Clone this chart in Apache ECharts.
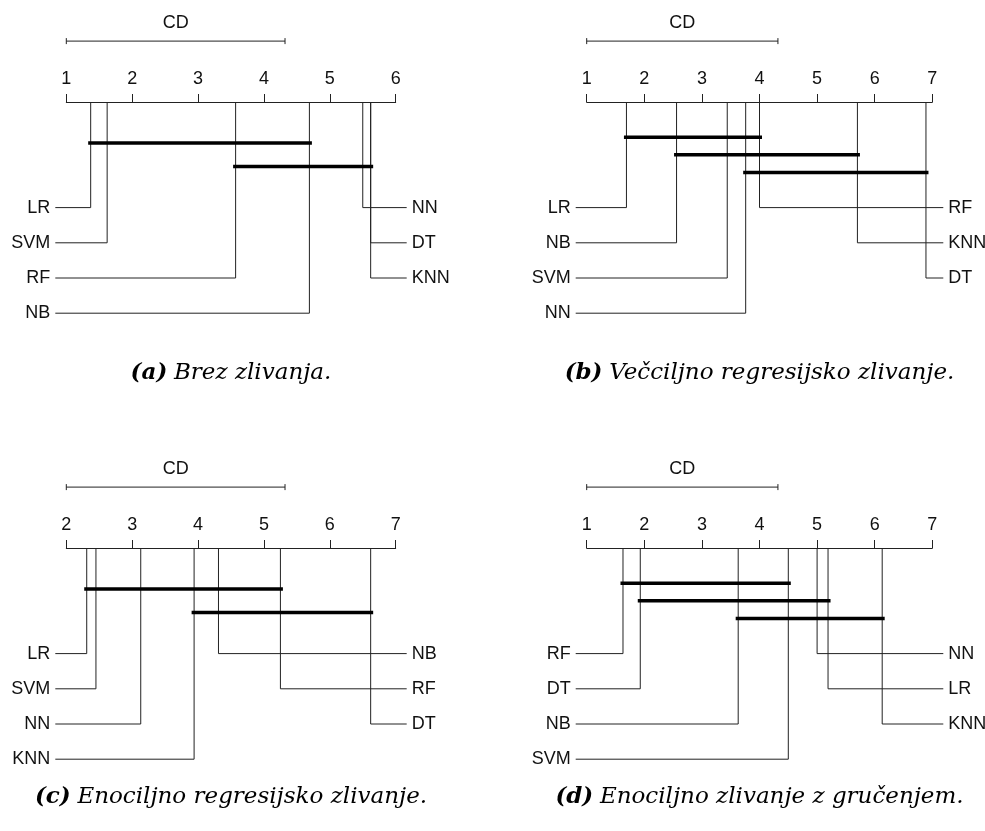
<!DOCTYPE html>
<html>
<head>
<meta charset="utf-8">
<script src="https://cdn.jsdelivr.net/npm/echarts@6/dist/echarts.min.js"></script>
<style>
html, body { margin: 0; padding: 0; background: #fff; }
#main { width: 985px; height: 831px; }
</style>
</head>
<body>
<div id="main"></div>
<script>
// povprečni rangi metod (odčitano s slike)
const methodsA = ['LR', 'SVM', 'RF', 'NB', 'NN', 'DT', 'KNN'];
const ranksA = [1.37, 1.62, 3.57, 4.69, 5.50, 5.62, 5.62];
const cliquesA = [['LR', 'NB'], ['RF', 'KNN']];

const methodsB = ['LR', 'NB', 'SVM', 'NN', 'RF', 'KNN', 'DT'];
const ranksB = [1.69, 2.56, 3.44, 3.76, 4.00, 5.70, 6.89];
const cliquesB = [['LR', 'RF'], ['NB', 'KNN'], ['NN', 'DT']];

const methodsC = ['LR', 'SVM', 'NN', 'KNN', 'NB', 'RF', 'DT'];
const ranksC = [2.31, 2.45, 3.13, 3.94, 4.31, 5.25, 6.62];
const cliquesC = [['LR', 'RF'], ['KNN', 'DT']];

const methodsD = ['RF', 'DT', 'NB', 'SVM', 'NN', 'LR', 'KNN'];
const ranksD = [1.63, 1.93, 3.63, 4.50, 5.00, 5.19, 6.13];
const cliquesD = [['RF', 'SVM'], ['DT', 'LR'], ['NB', 'KNN']];

const axisRanges = [[1, 6], [1, 7], [2, 7], [1, 7]];
const cdValue = 3.32;
const captionLetters = ['(a)', '(b)', '(c)', '(d)'];
const captionTexts = [
    'Brez zlivanja.',
    'Večciljno regresijsko zlivanje.',
    'Enociljno regresijsko zlivanje.',
    'Enociljno zlivanje z gručenjem.'
];

const sets = [
    [methodsA, ranksA, cliquesA],
    [methodsB, ranksB, cliquesB],
    [methodsC, ranksC, cliquesC],
    [methodsD, ranksD, cliquesD]
];

// postavitev (top = črta osi)
const panels = [
    {left: 66.3, width: 329.4, top: 102, capY: 373},
    {left: 586.7, width: 345.6, top: 102, capY: 373},
    {left: 66.3, width: 329.4, top: 548, capY: 797},
    {left: 586.7, width: 345.6, top: 548, capY: 797}
];
const rowUnit = 35.2;
const yMax = 6.5;
const cdRow = -1.73;
const sans = '"Liberation Sans", Arial, sans-serif';
const lineColor = '#222';

let grid = [], xAxis = [], yAxis = [], series = [], graphic = [];

panels.forEach((p, i) => {
    const [methods, ranks, cliques] = sets[i];
    const range = axisRanges[i];
    grid.push({left: p.left, width: p.width, top: p.top, height: yMax * rowUnit,
               outerBoundsMode: 'none', containLabel: false});
    xAxis.push({
        type: 'value', gridIndex: i, min: range[0], max: range[1], interval: 1,
        position: 'top',
        axisLine: {show: true, onZero: false, lineStyle: {color: lineColor, width: 1}},
        axisTick: {show: true, length: 8, lineStyle: {color: lineColor, width: 1}},
        axisLabel: {margin: 14, color: '#111', fontSize: 18, fontFamily: sans},
        splitLine: {show: false}
    });
    yAxis.push({type: 'value', gridIndex: i, min: 0, max: yMax, inverse: true, show: false});

    // metode: prva polovica levo, ostale desno
    const nLeft = Math.ceil(methods.length / 2);
    const rows = methods.map((m, k) => k < nLeft ? [ranks[k], 3 + k, 0] : [ranks[k], 3 + k - nLeft, 1]);

    series.push({
        type: 'custom', xAxisIndex: i, yAxisIndex: i, silent: true, clip: false,
        data: rows,
        renderItem: function (params, api) {
            const rank = api.value(0), row = api.value(1), side = api.value(2);
            const top = api.coord([rank, 0]);
            const bend = api.coord([rank, row]);
            const edge = api.coord([side ? range[1] : range[0], row])[0] + (side ? 11 : -11);
            return {
                type: 'group',
                children: [
                    {type: 'polyline', shape: {points: [top, bend, [edge, bend[1]]]},
                     style: {stroke: lineColor, lineWidth: 1, fill: null}},
                    {type: 'text', style: {
                        text: methods[params.dataIndex], x: edge + (side ? 5 : -5), y: bend[1],
                        align: side ? 'left' : 'right', verticalAlign: 'middle',
                        fill: '#111', fontSize: 18, fontFamily: sans}}
                ]
            };
        }
    });

    // skupine brez statistično značilne razlike
    const n = cliques.length;
    const cliqueData = cliques.map((c, k) => [
        ranks[methods.indexOf(c[0])], ranks[methods.indexOf(c[1])],
        1.5 + (k - (n - 1) / 2) * 2 / (n + 1)
    ]);
    series.push({
        type: 'custom', xAxisIndex: i, yAxisIndex: i, silent: true, clip: false,
        data: cliqueData,
        renderItem: function (params, api) {
            const a = api.coord([api.value(0), api.value(2)]);
            const b = api.coord([api.value(1), api.value(2)]);
            return {type: 'line', shape: {x1: a[0] - 2.5, y1: a[1], x2: b[0] + 2.5, y2: b[1]},
                    style: {stroke: '#000', lineWidth: 3.5}};
        }
    });

    // kritična razlika
    series.push({
        type: 'custom', xAxisIndex: i, yAxisIndex: i, silent: true, clip: false,
        data: [[range[0], range[0] + cdValue, cdRow]],
        renderItem: function (params, api) {
            const a = api.coord([api.value(0), api.value(2)]);
            const b = api.coord([api.value(1), api.value(2)]);
            const st = {stroke: lineColor, lineWidth: 1};
            return {
                type: 'group',
                children: [
                    {type: 'line', shape: {x1: a[0], y1: a[1], x2: b[0], y2: b[1]}, style: st},
                    {type: 'line', shape: {x1: a[0], y1: a[1] - 3, x2: a[0], y2: a[1] + 3}, style: st},
                    {type: 'line', shape: {x1: b[0], y1: b[1] - 3, x2: b[0], y2: b[1] + 3}, style: st},
                    {type: 'text', style: {text: 'CD', x: (a[0] + b[0]) / 2, y: a[1] - 18,
                        align: 'center', verticalAlign: 'middle', fill: '#111', fontSize: 18, fontFamily: sans}}
                ]
            };
        }
    });

    graphic.push({
        type: 'text', x: p.left + p.width / 2, y: p.capY,
        style: {
            text: '{b|' + captionLetters[i] + '}  {t|' + captionTexts[i] + '}',
            align: 'center', verticalAlign: 'middle',
            rich: {
                b: {fontFamily: '"DejaVu Serif", serif', fontStyle: 'italic', fontWeight: 'bold', fontSize: 23, fill: '#000'},
                t: {fontFamily: '"DejaVu Serif", serif', fontStyle: 'italic', fontSize: 23, fill: '#000'}
            }
        }
    });
});

let chart = echarts.init(document.getElementById('main'), null, {renderer: 'canvas'});
chart.setOption({
    animation: false,
    backgroundColor: '#fff',
    grid: grid,
    xAxis: xAxis,
    yAxis: yAxis,
    series: series,
    graphic: graphic
});
</script>
</body>
</html>
